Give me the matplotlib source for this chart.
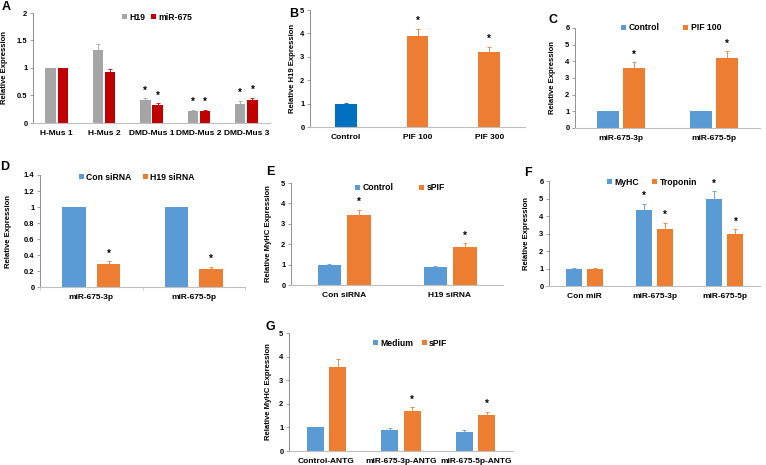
import matplotlib
matplotlib.use("Agg")
import matplotlib.pyplot as plt
import numpy as np
from matplotlib.ticker import FuncFormatter, MultipleLocator

plt.rcParams['font.family'] = ['Liberation Sans', 'DejaVu Sans']
plt.rcParams['font.weight'] = 'bold'

W, H = 766, 465

GRAY = '#A5A5A5'
RED = '#C00000'
BLUE = '#5B9BD5'
DBLUE = '#0070C0'
ORANGE = '#ED7D31'

# ---- Data ----
a_cats = ['H-Mus 1', 'H-Mus 2', 'DMD-Mus 1', 'DMD-Mus 2', 'DMD-Mus 3']
a_h19 = [1.0, 1.32, 0.41, 0.22, 0.35]
a_h19_err = [0.005, 0.12, 0.04, 0.02, 0.05]
a_mir = [1.0, 0.92, 0.33, 0.21, 0.42]
a_mir_err = [0.005, 0.07, 0.03, 0.03, 0.04]
a_h19_sig = [False, False, True, True, True]
a_mir_sig = [False, False, True, True, True]

b_cats = ['Control', 'PIF 100', 'PIF 300']
b_vals = [1.0, 3.87, 3.22]
b_err = [0.01, 0.33, 0.22]
b_sig = [False, True, True]

c_cats = ['miR-675-3p', 'miR-675-5p']
c_control = [1.0, 1.0]
c_pif = [3.6, 4.2]
c_pif_err = [0.33, 0.42]

d_cats = ['miR-675-3p', 'miR-675-5p']
d_con = [1.0, 1.0]
d_h19 = [0.29, 0.22]
d_h19_err = [0.03, 0.03]

e_cats = ['Con siRNA', 'H19 siRNA']
e_control = [1.0, 0.88]
e_control_err = [0.01, 0.06]
e_spif = [3.42, 1.88]
e_spif_err = [0.28, 0.17]

f_cats = ['Con miR', 'miR-675-3p', 'miR-675-5p']
f_myhc = [1.0, 4.32, 4.97]
f_myhc_err = [0.005, 0.38, 0.45]
f_trop = [1.0, 3.25, 2.95]
f_trop_err = [0.005, 0.37, 0.28]
f_sig = [False, True, True]

g_cats = ['Control-ANTG', 'miR-675-3p-ANTG', 'miR-675-5p-ANTG']
g_medium = [1.0, 0.88, 0.82]
g_medium_err = [0.01, 0.08, 0.08]
g_spif = [3.57, 1.7, 1.52]
g_spif_err = [0.33, 0.15, 0.13]
g_sig = [False, True, True]

fig = plt.figure(figsize=(W / 100, H / 100), dpi=100)
fig.patch.set_facecolor('white')

TICK_FS = 5.4
LABEL_FS = 5.6
LEG_FS = 6.2
LET_FS = 9


def make_ax(x0, x1, ytop, ybot, ymax, step, ylabel, labx, letter, letpos):
    ax = fig.add_axes([x0 / W, 1 - ybot / H, (x1 - x0) / W, (ybot - ytop) / H])
    ax.set_ylim(0, ymax)
    ax.yaxis.set_major_locator(MultipleLocator(step))
    ax.yaxis.set_major_formatter(FuncFormatter(lambda v, p: '{:g}'.format(round(v, 6))))
    for s in ['top', 'right']:
        ax.spines[s].set_visible(False)
    ax.spines['left'].set_color('#7F7F7F')
    ax.spines['bottom'].set_color('#BFBFBF')
    ax.spines['left'].set_linewidth(0.6)
    ax.spines['bottom'].set_linewidth(0.8)
    ax.tick_params(axis='y', length=2, width=0.5, color='#7F7F7F', labelsize=TICK_FS, pad=2)
    ax.tick_params(axis='x', length=0, labelsize=TICK_FS + 0.6, pad=5)
    for t in ax.get_yticklabels() + ax.get_xticklabels():
        t.set_fontweight('bold')
    ax.set_ylabel(ylabel, fontsize=LABEL_FS, fontweight='bold')
    # label anchor is the right edge of the rotated text; shift from centre
    ax.yaxis.set_label_coords((labx + 3.5 - x0) / (x1 - x0), 0.5)
    fig.text(letpos[0] / W, 1 - letpos[1] / H, letter, fontsize=LET_FS,
             fontweight='bold', ha='center', va='center')
    return ax


def bars(ax, x, vals, err, color, width, sig=None):
    ax.bar(x, vals, width=width, color=color, zorder=2)
    if err is not None:
        ax.errorbar(x, vals, yerr=[np.zeros(len(vals)), err], fmt='none',
                    ecolor=color, elinewidth=0.6, capsize=1.5, capthick=0.6, zorder=3)
    if sig is not None:
        top = np.array(vals) + (np.array(err) if err is not None else 0)
        yr = ax.get_ylim()[1]
        for xi, ti, s in zip(x, top, sig):
            if s:
                ax.text(xi, ti + yr * 0.025, '*', ha='center', va='bottom',
                        fontsize=7, fontweight='bold')


def legend(ax, handles_info, cx, cy, colsp):
    from matplotlib.patches import Patch
    hs = [Patch(facecolor=c, label=l) for l, c in handles_info]
    x0, x1 = ax.get_position().x0 * W, ax.get_position().x1 * W
    y0p = (1 - ax.get_position().y1) * H
    y1p = (1 - ax.get_position().y0) * H
    bx = (cx - x0) / (x1 - x0)
    by = 1 - (cy - y0p) / (y1p - y0p)
    ax.legend(handles=hs, loc='center', bbox_to_anchor=(bx, by), ncol=len(hs),
              frameon=False, fontsize=LEG_FS, handlelength=0.6, handleheight=0.6,
              handletextpad=0.25, columnspacing=colsp, borderpad=0,
              prop={'weight': 'bold', 'size': LEG_FS})


# ---- Panel A ----
ax = make_ax(33, 270, 13, 123, 2, 0.5, 'Relative Expression', 5, 'A', (6, 7))
x = np.arange(len(a_cats))
ax.set_xlim(-0.5, len(a_cats) - 0.5)
bars(ax, x - 0.13, a_h19, a_h19_err, GRAY, 0.22, a_h19_sig)
bars(ax, x + 0.13, a_mir, a_mir_err, RED, 0.22, a_mir_sig)
ax.set_xticks(x)
ax.set_xticklabels(a_cats)
legend(ax, [('H19', GRAY), ('miR-675', RED)], 157, 17, 0.6)

# ---- Panel B ----
ax = make_ax(310, 525, 10, 127, 5, 1, 'Relative H19 Expression', 293, 'B', (294, 14))
x = np.arange(len(b_cats))
ax.set_xlim(-0.5, len(b_cats) - 0.5)
colors_b = [DBLUE, ORANGE, ORANGE]
for xi, v, e, c, s in zip(x, b_vals, b_err, colors_b, b_sig):
    bars(ax, [xi], [v], [e], c, 0.3, [s])
ax.set_xticks(x)
ax.set_xticklabels(b_cats)

# ---- Panel C ----
ax = make_ax(575, 760, 28, 128, 6, 1, 'Relative Expression', 553, 'C', (553, 20))
x = np.arange(len(c_cats))
ax.set_xlim(-0.5, len(c_cats) - 0.5)
bars(ax, x - 0.14, c_control, None, BLUE, 0.24)
bars(ax, x + 0.14, c_pif, c_pif_err, ORANGE, 0.24, [True, True])
ax.set_xticks(x)
ax.set_xticklabels(c_cats)
legend(ax, [('Control', BLUE), ('PIF 100', ORANGE)], 671, 28, 2.8)

# ---- Panel D ----
ax = make_ax(40, 245, 175, 287, 1.4, 0.2, 'Relative Expression', 9, 'D', (5, 167))
x = np.arange(len(d_cats))
ax.set_xlim(-0.5, len(d_cats) - 0.5)
bars(ax, x - 0.17, d_con, None, BLUE, 0.23)
bars(ax, x + 0.17, d_h19, d_h19_err, ORANGE, 0.23, [True, True])
ax.set_xticks(x)
ax.set_xticklabels(d_cats)
ax.set_xticks([-0.5, 0.5, 1.5], minor=True)
ax.tick_params(axis='x', which='minor', length=2, width=0.5, color='#BFBFBF')
legend(ax, [('Con siRNA', BLUE), ('H19 siRNA', ORANGE)], 137, 177, 1.3)

# ---- Panel E ----
ax = make_ax(291, 503, 183, 285, 5, 1, 'Relative MyHC Expression', 268, 'E', (270, 172))
x = np.arange(len(e_cats))
ax.set_xlim(-0.5, len(e_cats) - 0.5)
bars(ax, x - 0.14, e_control, e_control_err, BLUE, 0.22)
bars(ax, x + 0.14, e_spif, e_spif_err, ORANGE, 0.22, [True, True])
ax.set_xticks(x)
ax.set_xticklabels(e_cats)
legend(ax, [('Control', BLUE), ('sPIF', ORANGE)], 400, 188, 3.0)

# ---- Panel F ----
ax = make_ax(549, 760, 181, 286, 6, 1, 'Relative Expression', 526, 'F', (528, 173))
x = np.arange(len(f_cats))
ax.set_xlim(-0.5, len(f_cats) - 0.5)
bars(ax, x - 0.15, f_myhc, f_myhc_err, BLUE, 0.23, f_sig)
bars(ax, x + 0.15, f_trop, f_trop_err, ORANGE, 0.23, f_sig)
ax.set_xticks(x)
ax.set_xticklabels(f_cats)
legend(ax, [('MyHC', BLUE), ('Troponin', ORANGE)], 652, 182, 1.5)

# ---- Panel G ----
ax = make_ax(289, 513, 333, 451, 5, 1, 'Relative MyHC Expression', 269, 'G', (270, 327))
x = np.arange(len(g_cats))
ax.set_xlim(-0.5, len(g_cats) - 0.5)
bars(ax, x - 0.15, g_medium, g_medium_err, BLUE, 0.23)
bars(ax, x + 0.15, g_spif, g_spif_err, ORANGE, 0.23, g_sig)
ax.set_xticks(x)
ax.set_xticklabels(g_cats)
legend(ax, [('Medium', BLUE), ('sPIF', ORANGE)], 410, 343, 1.0)

fig.savefig('out.png', dpi=100, facecolor='white')
